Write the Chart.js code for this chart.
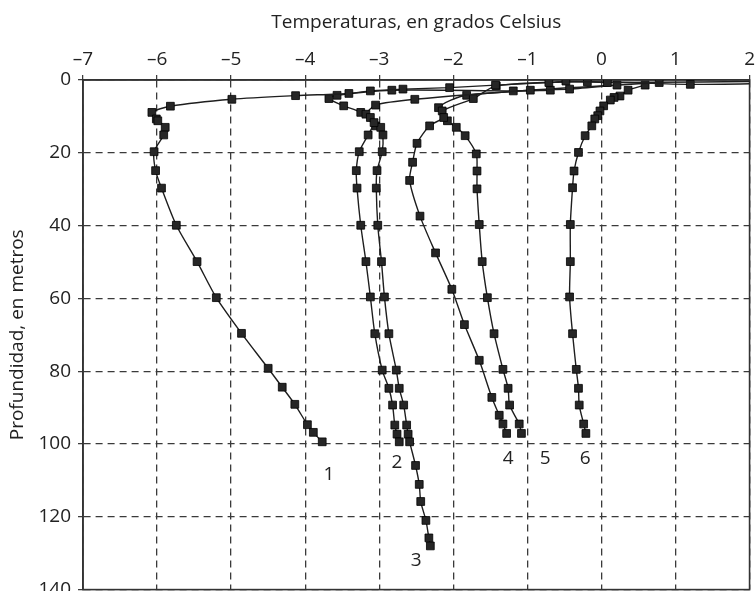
<!DOCTYPE html>
<html>
<head>
<meta charset="utf-8">
<script src="https://cdn.jsdelivr.net/npm/chart.js@4/dist/chart.umd.min.js"></script>
<style>
html,body{margin:0;padding:0;background:#fff;overflow:hidden;}
#wrap{width:759px;height:608px;}
</style>
</head>
<body>
<div id="wrap"><canvas id="c" width="759" height="608"></canvas></div>
<script>
// ---- Data (temperature °C, depth m) ----
const profile1Temp  = [2.6, 0.08, -0.48, -0.71, -1.43, -2.05, -2.68, -3.12, -3.41, -4.13, -4.99, -5.82, -6.07, -6.01, -5.99, -5.89, -5.91, -6.04, -6.02, -5.94, -5.74, -5.46, -5.20, -4.86, -4.50, -4.31, -4.14, -3.97, -3.89, -3.77];
const profile1Depth = [0.3, 0.7, 0.3, 0.7, 1.4, 2.1, 2.5, 3.0, 3.7, 4.3, 5.3, 7.2, 8.9, 10.7, 11.2, 13.0, 15.1, 19.7, 24.9, 29.7, 39.9, 49.9, 59.8, 69.6, 79.2, 84.4, 89.1, 94.7, 96.8, 99.4];

const profile2Temp  = [0.21, -0.43, -0.96, -2.52, -3.05, -3.18, -3.12, -3.07, -3.15, -3.27, -3.31, -3.30, -3.25, -3.18, -3.12, -3.06, -2.96, -2.87, -2.82, -2.79, -2.76, -2.73];
const profile2Depth = [1.4, 2.5, 2.8, 5.3, 6.9, 9.4, 10.3, 11.7, 15.1, 19.7, 24.9, 29.7, 39.9, 49.9, 59.6, 69.7, 79.7, 84.7, 89.3, 94.8, 97.3, 99.4];

const profile3Temp  = [-0.69, -1.19, -2.83, -3.57, -3.68, -3.48, -3.25, -3.05, -2.98, -2.95, -2.96, -3.03, -3.04, -3.02, -2.97, -2.93, -2.87, -2.77, -2.73, -2.67, -2.63, -2.61, -2.59, -2.51, -2.46, -2.44, -2.37, -2.33, -2.31];
const profile3Depth = [2.8, 3.0, 2.8, 4.2, 5.1, 7.1, 8.9, 12.6, 13.0, 15.1, 19.7, 24.9, 29.7, 39.9, 49.9, 59.6, 69.7, 79.7, 84.7, 89.3, 94.8, 97.3, 99.4, 105.9, 111.1, 115.8, 121.0, 125.8, 128.0];

const profile4Temp  = [2.6, 1.2, -0.19, -1.42, -1.73, -2.15, -2.13, -2.32, -2.49, -2.55, -2.59, -2.45, -2.24, -2.02, -1.85, -1.65, -1.48, -1.38, -1.33, -1.28];
const profile4Depth = [0.8, 1.2, 0.5, 1.6, 5.1, 8.5, 10.3, 12.6, 17.4, 22.6, 27.6, 37.4, 47.5, 57.5, 67.2, 77.0, 87.2, 92.1, 94.5, 97.1];

const profile5Temp  = [0.78, -1.82, -2.20, -2.08, -1.96, -1.84, -1.69, -1.68, -1.68, -1.65, -1.61, -1.54, -1.45, -1.33, -1.26, -1.24, -1.11, -1.08];
const profile5Depth = [0.7, 4.2, 7.6, 11.2, 13.0, 15.3, 20.3, 25.0, 29.9, 39.7, 49.9, 59.8, 69.7, 79.5, 84.7, 89.3, 94.5, 97.1];

const profile6Temp  = [0.59, 0.36, 0.25, 0.17, 0.12, 0.03, -0.02, -0.05, -0.09, -0.13, -0.22, -0.31, -0.37, -0.39, -0.42, -0.42, -0.43, -0.39, -0.34, -0.31, -0.30, -0.24, -0.21];
const profile6Depth = [1.4, 2.8, 4.4, 4.8, 5.5, 7.1, 8.5, 9.8, 10.7, 12.6, 15.3, 19.9, 25.0, 29.6, 39.7, 49.9, 59.6, 69.7, 79.5, 84.7, 89.3, 94.5, 97.1];

// Curve number labels (text, temperature, depth)
const curveLabelText  = ['1', '2', '3', '4', '5', '6'];
const curveLabelTemp  = [-3.68, -2.76, -2.50, -1.26, -0.76, -0.22];
const curveLabelDepth = [108.5, 105.0, 131.9, 104.1, 104.1, 104.1];

// Axis ticks
const xTickValues = [-7, -6, -5, -4, -3, -2, -1, 0, 1, 2];
const xTickLabels = ['–7', '–6', '–5', '–4', '–3', '–2', '–1', '0', '1', '2'];
const yTickValues = [0, 20, 40, 60, 80, 100, 120, 140];

const profiles = [
  [profile1Temp, profile1Depth],
  [profile2Temp, profile2Depth],
  [profile3Temp, profile3Depth],
  [profile4Temp, profile4Depth],
  [profile5Temp, profile5Depth],
  [profile6Temp, profile6Depth]
];

const FONT = '"Open Sans", "DejaVu Sans", sans-serif';
const INK = '#1e1e1e';

const datasets = profiles.map(([t, d], i) => ({
  label: curveLabelText[i],
  data: t.map((v, k) => ({ x: v, y: d[k] })),
  showLine: true,
  borderColor: INK,
  borderWidth: 1.4,
  tension: 0.25,
  pointStyle: 'rect',
  pointRadius: 5.5,
  pointBackgroundColor: '#262626',
  pointBorderColor: '#000',
  pointBorderWidth: 0.8,
  clip: 0
}));

const framePlugin = {
  id: 'frame',
  beforeDatasetsDraw(chart) {
    const a = chart.chartArea, ctx = chart.ctx;
    ctx.save();
    ctx.strokeStyle = '#333';
    ctx.lineWidth = 1.6;
    ctx.setLineDash([]);
    ctx.strokeRect(a.left, a.top, a.right - a.left, a.bottom - a.top);
    ctx.restore();
  }
};

const labelPlugin = {
  id: 'curveLabels',
  afterDatasetsDraw(chart) {
    const ctx = chart.ctx, xs = chart.scales.x, ys = chart.scales.y;
    ctx.save();
    ctx.font = '19px ' + FONT;
    ctx.fillStyle = '#222';
    ctx.textAlign = 'center';
    ctx.textBaseline = 'middle';
    curveLabelText.forEach((txt, i) => {
      ctx.fillText(txt, xs.getPixelForValue(curveLabelTemp[i]), ys.getPixelForValue(curveLabelDepth[i]));
    });
    ctx.restore();
  }
};

const gridOpts = {
  color: '#3a3a3a', lineWidth: 1.3,
  tickLength: 5, tickColor: '#333', tickBorderDash: [], tickWidth: 1.2
};

new Chart(document.getElementById('c'), {
  type: 'scatter',
  data: { datasets },
  plugins: [framePlugin, labelPlugin],
  options: {
    responsive: false,
    animation: false,
    devicePixelRatio: 1,
    layout: { padding: { left: 0, right: 0, top: 0, bottom: 0 } },
    plugins: { legend: { display: false }, tooltip: { enabled: false } },
    scales: {
      x: {
        type: 'linear',
        position: 'top',
        min: -7, max: 2,
        afterBuildTicks: s => { s.ticks = xTickValues.map(v => ({ value: v })); },
        ticks: {
          callback: v => { const k = xTickValues.indexOf(v); return k >= 0 ? xTickLabels[k] : ''; },
          font: { family: FONT, size: 19 },
          color: '#222',
          padding: 4,
          maxRotation: 0
        },
        grid: gridOpts,
        border: { display: true, color: '#333', width: 1.6, dash: [7, 5] },
        title: {
          display: true, text: 'Temperaturas, en grados Celsius',
          font: { family: FONT, size: 19 }, color: '#222',
          padding: { top: 11, bottom: 2 }
        },
        afterFit: s => { s.height = 80; }
      },
      y: {
        type: 'linear',
        reverse: true,
        min: 0, max: 140,
        afterBuildTicks: s => { s.ticks = yTickValues.map(v => ({ value: v })); },
        ticks: {
          font: { family: FONT, size: 19 },
          color: '#222',
          padding: 7
        },
        grid: gridOpts,
        border: { display: true, color: '#333', width: 1.6, dash: [7, 5] },
        title: {
          display: true, text: 'Profundidad, en metros',
          font: { family: FONT, size: 19 }, color: '#222',
          padding: { top: 6, bottom: 4 }
        },
        afterFit: s => { s.width = 83; }
      }
    }
  }
});
</script>
</body>
</html>
